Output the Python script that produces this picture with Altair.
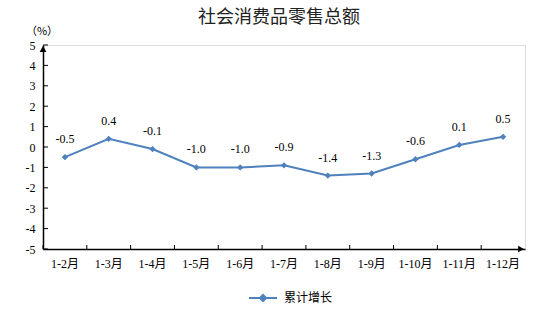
import altair as alt
import pandas as pd

# 社会消费品零售总额 累计增长 (%)
months = ["1-2月", "1-3月", "1-4月", "1-5月", "1-6月", "1-7月",
          "1-8月", "1-9月", "1-10月", "1-11月", "1-12月"]
growth = [-0.5, 0.4, -0.1, -1.0, -1.0, -0.9, -1.4, -1.3, -0.6, 0.1, 0.5]
y_ticks = [-5, -4, -3, -2, -1, 0, 1, 2, 3, 4, 5]
series_name = "累计增长"
title_text = "社会消费品零售总额"

BLUE = "#4F81BD"
SERIF = "Liberation Serif, Noto Sans CJK SC"
CJK = "Noto Sans CJK SC"
W, H = 482, 204

df = pd.DataFrame({"month": months, "growth": growth, "series": series_name})
df["label"] = [f"{v:.1f}" for v in growth]
ticks_df = pd.DataFrame({"growth": y_ticks})
one = pd.DataFrame({"title": [title_text]})

x_scale = alt.Scale(type="band", domain=months, paddingInner=0, paddingOuter=0)
y_scale = alt.Scale(domain=[-5, 5], nice=False)

x_axis = alt.Axis(title=None, ticks=False, labelAngle=0, labelPadding=9,
                  labelFont=SERIF, labelFontSize=12, labelColor="#000",
                  labelOverlap=False, domainColor="#000", domainWidth=1.5)
y_axis = alt.Axis(title=None, ticks=False, values=y_ticks, grid=False,
                  labelExpr="'' + datum.value", labelOverlap=False,
                  labelFlush=False, labelPadding=8, labelFont=SERIF,
                  labelFontSize=12, labelColor="#000", domainColor="#000",
                  domainWidth=1.5)


def xe(**kw):
    return alt.X("month:N", scale=x_scale, sort=months, axis=x_axis, **kw)


def ye():
    return alt.Y("growth:Q", scale=y_scale, axis=y_axis)


color = alt.Color("series:N", scale=alt.Scale(range=[BLUE]),
                  legend=alt.Legend(title=None, orient="none", legendX=205, legendY=238,
                                    symbolType="M-1,0H1M-0.22,0L0,-0.22L0.22,0L0,0.22Z",
                                    symbolSize=784, symbolStrokeWidth=2,
                                    symbolFillColor=BLUE, symbolStrokeColor=BLUE,
                                    labelFont=CJK, labelFontSize=12, labelColor="#000",
                                    labelOffset=6))

base = alt.Chart(df)

line = base.mark_line(strokeWidth=2).encode(x=xe(), y=ye(), color=color)
pts = base.mark_point(shape="diamond", filled=True, size=40, opacity=1).encode(
    x=xe(), y=ye(), color=color)
labels = base.mark_text(dy=-18, font=SERIF, fontSize=12, color="#000").encode(
    x=xe(), y=ye(), text="label:N")

# inward tick marks on the y axis
y_tick_marks = alt.Chart(ticks_df).mark_rule(color="#000", strokeWidth=1).encode(
    y=ye(), x=alt.value(0), x2=alt.value(5))
# inward tick marks on the x axis, at band edges
x_tick_marks = base.mark_rule(color="#000", strokeWidth=1).encode(
    x=xe(bandPosition=0), y=alt.value(H - 4), y2=alt.value(H))

# arrow heads at the ends of the axes
arrow_up = alt.Chart(one).mark_point(
    shape="triangle-up", filled=True, color="#000", size=45, opacity=1).encode(
    x=alt.value(0), y=alt.value(4))
arrow_right = alt.Chart(one).mark_point(
    shape="triangle-right", filled=True, color="#000", size=45, opacity=1).encode(
    x=alt.value(W - 4), y=alt.value(H))

unit = alt.Chart(one).mark_text(
    text="（%）", font=CJK, fontSize=11, color="#000").encode(
    x=alt.value(-1), y=alt.value(-13))

title = alt.Chart(one).mark_text(
    font=CJK, fontSize=18, color="#222").encode(
    text="title:N", x=alt.value(236), y=alt.value(-27))

chart = alt.layer(line, pts, labels, y_tick_marks, x_tick_marks,
                  arrow_up, arrow_right, unit, title).properties(
    width=W, height=H,
    autosize=alt.AutoSizeParams(type="none"),
    padding={"left": 43, "top": 45, "right": 29, "bottom": 60},
).configure_view(stroke=None).configure_axis(
    labelOverlap=False
).configure(background="white")

chart.save("out.html", embed_options={"renderer": "svg", "actions": False})
